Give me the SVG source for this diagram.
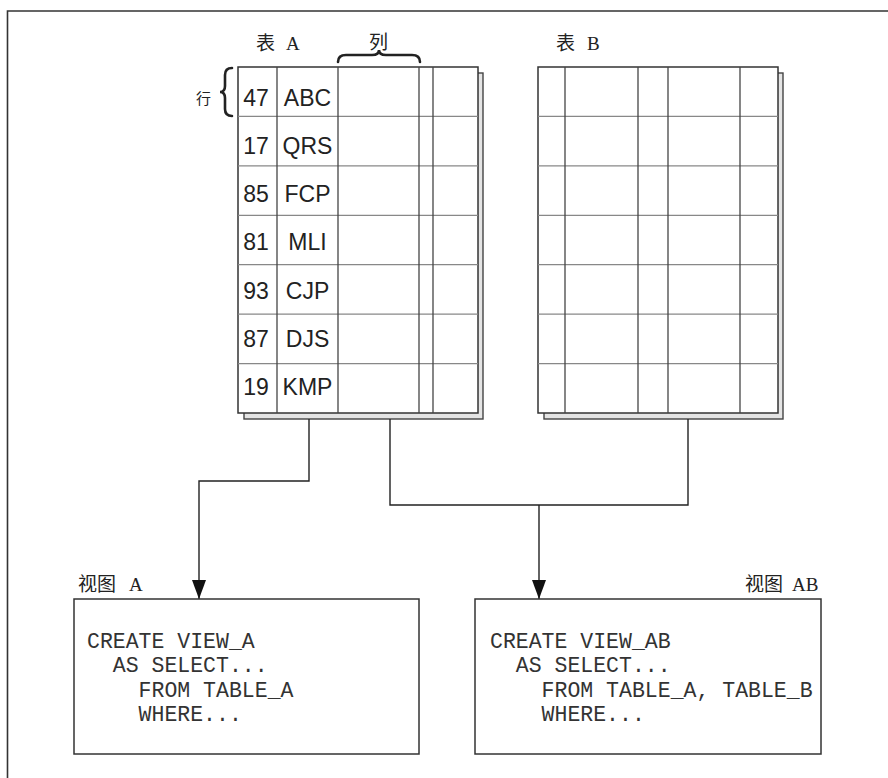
<svg xmlns="http://www.w3.org/2000/svg" width="888" height="778" viewBox="0 0 888 778">
<defs>
<style>
.frame{fill:none;stroke:#333;stroke-width:1.6}
.shadow{fill:#e4e4e4;stroke:#444;stroke-width:1.4}
.tbl{fill:#fff;stroke:#333;stroke-width:1.5}
.hl{stroke:#888;stroke-width:1.3}
.vl{stroke:#444;stroke-width:1.3}
.cell{font-family:"Liberation Sans",Arial,sans-serif;font-size:23px;fill:#222;text-anchor:middle}
.lbl{font-family:"Liberation Serif","Noto Sans CJK SC",serif;font-size:19px;fill:#222}
.code{font-family:"Liberation Mono","Courier New",monospace;font-size:21.5px;fill:#333;white-space:pre}
.box{fill:#fff;stroke:#333;stroke-width:1.5}
.conn{fill:none;stroke:#222;stroke-width:1.4}
.brace{fill:none;stroke:#222;stroke-width:2.6;stroke-linecap:round}
</style>
<marker id="arr" viewBox="0 0 19 14" refX="19" refY="7" markerWidth="19" markerHeight="14" markerUnits="userSpaceOnUse" orient="auto">
<path d="M0,0 L19,7 L0,14 Z" fill="#111"/>
</marker>
</defs>
<rect width="888" height="778" fill="#fff"/>
<path class="frame" d="M7.5,778 L7.5,11 L888,11"/>

<g id="tableA">
<rect class="shadow" x="244" y="73" width="239" height="346"/>
<rect class="tbl" x="238" y="67" width="240" height="346"/>
<g>
<line class="hl" x1="238" y1="116.4" x2="478" y2="116.4"/>
<line class="hl" x1="238" y1="165.9" x2="478" y2="165.9"/>
<line class="hl" x1="238" y1="215.3" x2="478" y2="215.3"/>
<line class="hl" x1="238" y1="264.7" x2="478" y2="264.7"/>
<line class="hl" x1="238" y1="314.1" x2="478" y2="314.1"/>
<line class="hl" x1="238" y1="363.6" x2="478" y2="363.6"/>
<line class="vl" x1="277" y1="67" x2="277" y2="413"/>
<line class="vl" x1="338" y1="67" x2="338" y2="413"/>
<line class="vl" x1="419" y1="67" x2="419" y2="413"/>
<line class="vl" x1="433" y1="67" x2="433" y2="413"/>
</g>
<text class="cell" x="256" y="105.5">47</text><text class="cell" x="307.5" y="105.5">ABC</text>
<text class="cell" x="256" y="153.8">17</text><text class="cell" x="307.5" y="153.8">QRS</text>
<text class="cell" x="256" y="202">85</text><text class="cell" x="307.5" y="202">FCP</text>
<text class="cell" x="256" y="250.3">81</text><text class="cell" x="307.5" y="250.3">MLI</text>
<text class="cell" x="256" y="298.5">93</text><text class="cell" x="307.5" y="298.5">CJP</text>
<text class="cell" x="256" y="346.8">87</text><text class="cell" x="307.5" y="346.8">DJS</text>
<text class="cell" x="256" y="395">19</text><text class="cell" x="307.5" y="395">KMP</text>
</g>

<g id="tableB">
<rect class="shadow" x="544" y="73" width="239" height="346"/>
<rect class="tbl" x="538" y="67" width="240" height="346"/>
<line class="hl" x1="538" y1="116.4" x2="778" y2="116.4"/>
<line class="hl" x1="538" y1="165.9" x2="778" y2="165.9"/>
<line class="hl" x1="538" y1="215.3" x2="778" y2="215.3"/>
<line class="hl" x1="538" y1="264.7" x2="778" y2="264.7"/>
<line class="hl" x1="538" y1="314.1" x2="778" y2="314.1"/>
<line class="hl" x1="538" y1="363.6" x2="778" y2="363.6"/>
<line class="vl" x1="565" y1="67" x2="565" y2="413"/>
<line class="vl" x1="638" y1="67" x2="638" y2="413"/>
<line class="vl" x1="668" y1="67" x2="668" y2="413"/>
<line class="vl" x1="740" y1="67" x2="740" y2="413"/>
</g>

<g id="labels">
<text class="lbl" x="256" y="50">表<tspan x="286">A</tspan></text>
<text class="lbl" x="369" y="49">列</text>
<text class="lbl" x="556" y="50">表<tspan x="587">B</tspan></text>
<text class="lbl" x="196" y="104" style="font-size:15px">行</text>
<path class="brace" d="M338,62 Q338,55 346,55 L372,55 Q379,55 379,50 Q379,55 386,55 L412,55 Q420,55 420,62"/>
<path class="brace" d="M232,68 Q225,68 225,75 L225,86 Q225,92 220,92 Q225,92 225,98 L225,109 Q225,116 232,116"/>
</g>

<g id="connectors">
<path class="conn" d="M309,419 L309,481 L199,481 L199,599" marker-end="url(#arr)"/>
<path class="conn" d="M390,419 L390,505 L688,505 L688,419"/>
<path class="conn" d="M539,505 L539,599" marker-end="url(#arr)"/>
</g>

<g id="viewA">
<text class="lbl" x="78" y="591">视图<tspan x="129">A</tspan></text>
<rect class="box" x="74" y="599" width="345" height="155"/>
<text class="code" x="87" y="648">CREATE VIEW_A</text>
<text class="code" x="87" y="672">  AS SELECT...</text>
<text class="code" x="87" y="697">    FROM TABLE_A</text>
<text class="code" x="87" y="721">    WHERE...</text>
</g>

<g id="viewAB">
<text class="lbl" x="745" y="591">视图<tspan x="792">AB</tspan></text>
<rect class="box" x="475" y="599" width="346" height="155"/>
<text class="code" x="490" y="648">CREATE VIEW_AB</text>
<text class="code" x="490" y="672">  AS SELECT...</text>
<text class="code" x="490" y="697">    FROM TABLE_A, TABLE_B</text>
<text class="code" x="490" y="721">    WHERE...</text>
</g>
</svg>
